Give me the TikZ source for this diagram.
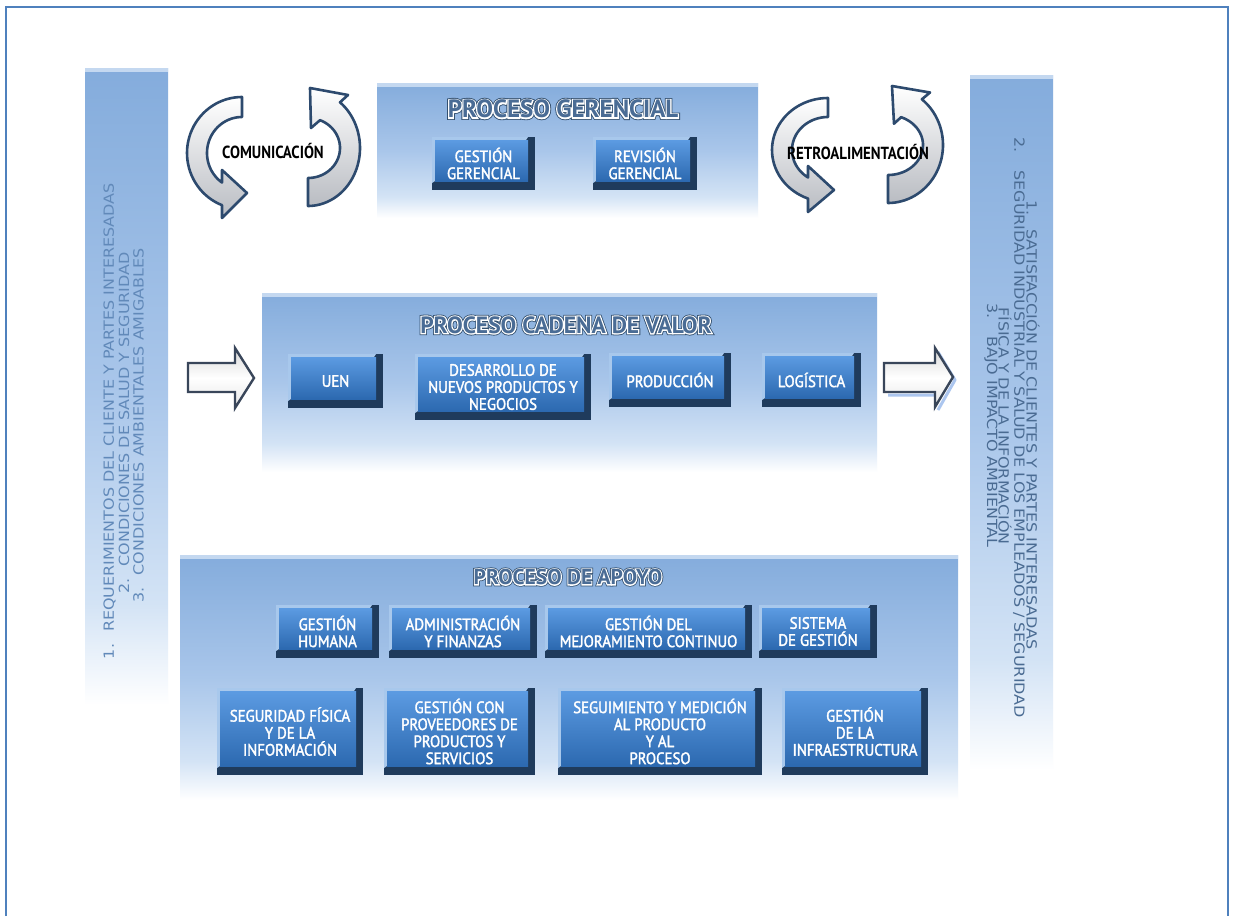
\documentclass[tikz,border=0pt]{standalone}
\usepackage{fontspec}
\setmainfont{DejaVu Sans}
\newfontfamily\titlefont{PT Sans}
\newfontfamily\titlerimdark{PT Sans}[BoldFeatures={FakeBold=17}]
\newfontfamily\titlerimwhite{PT Sans}[BoldFeatures={FakeBold=10}]
\newfontfamily\labelfont{PT Sans}[FakeStretch=0.85]
\newfontfamily\btnfont{PT Sans}[FakeStretch=0.9,FakeBold=2]
\newfontfamily\sidefont{DejaVu Sans}[FakeStretch=1.14]

\definecolor{framec}{HTML}{4F81BD}
\definecolor{pTop}{HTML}{84ACDC}
\definecolor{pMid}{HTML}{A9C6EA}
\definecolor{pLow}{HTML}{D3E3F5}
\definecolor{pLip}{HTML}{C4D8F0}
\definecolor{btnTop}{HTML}{5C9BE2}
\definecolor{btnBot}{HTML}{2C69B0}
\definecolor{btnDark}{HTML}{1F3B5C}
\definecolor{btnLight}{HTML}{A8C8EC}
\definecolor{titleFill}{HTML}{4A6C95}
\definecolor{titleEdge}{HTML}{33506F}
\definecolor{sideTxtL}{HTML}{6189B9}
\definecolor{sideTxtR}{HTML}{4A6B92}
\definecolor{arrowEdge}{HTML}{2D4A6E}
\definecolor{arrowGray}{HTML}{B9BCC2}
\definecolor{blockEdge}{HTML}{39465A}
\definecolor{glow}{HTML}{5B8FE0}

% vertical fade used by panels and side bars (top blue, bottom white)
\pgfdeclareverticalshading{panelfade}{100bp}{color(0bp)=(white); color(25bp)=(white);
  color(33bp)=(pLow); color(50bp)=(pMid); color(75bp)=(pTop); color(100bp)=(pTop)}

% heading text: emboldened dark copy, emboldened white copy, then the blue letters
\newcommand\halotitle[1]{%
  \rlap{\titlerimdark\bfseries\color{titleEdge}#1}%
  \rlap{\titlerimwhite\bfseries\color{white}#1}%
  {\titlefont\bfseries\color{titleFill}#1}}

\begin{document}
\begin{tikzpicture}[x=1pt,y=-1pt,
  panel/.style={shade, shading=panelfade, inner sep=0pt,
    path picture={\fill[pLip] (path picture bounding box.north west) rectangle ([yshift=-4pt]path picture bounding box.north east);}},
  btn/.style={rectangle, inner sep=0pt, fill=btnDark, text=white, align=center,
    font=\btnfont\fontsize{16.5}{17}\selectfont,
    path picture={
      \fill[btnLight] (path picture bounding box.north west)
        -- ([xshift=-7pt]path picture bounding box.north east)
        -- ([xshift=-9pt,yshift=-3pt]path picture bounding box.north east)
        -- ([xshift=3pt,yshift=-3pt]path picture bounding box.north west)
        -- ([xshift=3pt,yshift=9pt]path picture bounding box.south west)
        -- ([yshift=7pt]path picture bounding box.south west) -- cycle;
      \shade[top color=btnTop, bottom color=btnBot]
        ([xshift=3pt,yshift=-3pt]path picture bounding box.north west)
        rectangle ([xshift=-7pt,yshift=9pt]path picture bounding box.south east);}},
  ptitle/.style={inner sep=0pt},
  curl/.style={draw=arrowEdge, line width=2.6pt, line join=round, top color=white, bottom color=arrowGray},
  blockarrow/.style={draw=blockEdge, line width=2.4pt, line join=miter, top color=gray!30, bottom color=gray!20, middle color=white},
  arrowlabel/.style={inner sep=0pt, font=\labelfont\bfseries\fontsize{17.5}{18}\selectfont},
  sidetxtL/.style={font=\sidefont\fontsize{14}{14}\selectfont, text=sideTxtL, inner sep=0pt, rotate=90, anchor=east},
  sidetxtR/.style={font=\sidefont\fontsize{14}{14}\selectfont, text=sideTxtR, inner sep=0pt, rotate=-90, anchor=west}]

\useasboundingbox (0,0) rectangle (1234,916);
\fill[white] (0,0) rectangle (1234,916);

% outer frame (open at the bottom)
\draw[framec, line width=2.2pt] (6,916) -- (6,7) -- (1228,7) -- (1228,916);

% side bars
\node[panel, minimum width=83pt, minimum height=637pt] (barL) at (126.5,386.5) {};
\node[panel, minimum width=83pt, minimum height=695pt] (barR) at (1011.5,422.5) {};

\node[sidetxtL] (l1) at (109.5,183) {1.\hspace{12pt}REQUERIMIENTOS DEL CLIENTE Y PARTES INTERESADAS};
\node[sidetxtL] (l2) at (124,252) {2.\hspace{12pt}CONDICIONES DE SALUD Y SEGURIDAD};
\node[sidetxtL] (l3) at (138.5,248) {3.\hspace{12pt}CONDICIONES AMBIENTALES AMIGABLES};

\node[sidetxtR] (r1) at (1033,200) {1.\hspace{14pt}SATISFACCIÓN DE CLIENTES Y PARTES INTERESADAS};
\node[sidetxtR] (r2) at (1019,137) {2.\hspace{18pt}SEGURIDAD INDUSTRIAL Y SALUD DE LOS EMPLEADOS / SEGURIDAD};
\node[sidetxtR] (r3) at (1005,307) {FÍSICA Y DE LA INFORMACIÓN};
\node[sidetxtR] (r4) at (991,303) {3.\hspace{18pt}BAJO IMPACTO AMBIENTAL};

% process panels
\node[panel, minimum width=381pt, minimum height=135pt] (pg) at (567.5,150.5) {};
\node[panel, minimum width=615pt, minimum height=179pt] (pc) at (569.5,382.5) {};
\node[panel, minimum width=778pt, minimum height=245pt] (pa) at (569,677.5) {};

\node[ptitle, font=\fontsize{25}{28}\selectfont] (tg) at (563,109) {\halotitle{PROCESO GERENCIAL}};
\node[ptitle, font=\fontsize{23.5}{26}\selectfont] (tc) at (566,325) {\halotitle{PROCESO CADENA DE VALOR}};
\node[ptitle, font=\fontsize{21.5}{24}\selectfont] (ta) at (568,577) {\halotitle{PROCESO DE APOYO}};

% management buttons
\node[btn, minimum width=103pt, minimum height=53pt] (gg) at (483.5,163.5) {GESTIÓN\\GERENCIAL};
\node[btn, minimum width=104pt, minimum height=53pt] (rg) at (645,163.5) {REVISIÓN\\GERENCIAL};

% value chain buttons
\node[btn, minimum width=95pt, minimum height=54pt] (uen) at (335.5,381) {UEN};
\node[btn, minimum width=176pt, minimum height=66pt] (dnp) at (503,387) {DESARROLLO DE\\NUEVOS PRODUCTOS Y\\NEGOCIOS};
\node[btn, minimum width=122pt, minimum height=54pt] (prod) at (670,380) {PRODUCCIÓN};
\node[btn, minimum width=99pt, minimum height=54pt] (log) at (811.5,380) {LOGÍSTICA};

% support buttons, first row
\node[btn, minimum width=103pt, minimum height=53pt] (gh) at (327.5,631.5) {GESTIÓN\\HUMANA};
\node[btn, minimum width=148pt, minimum height=53pt] (af) at (463,631.5) {ADMINISTRACIÓN\\Y FINANZAS};
\node[btn, minimum width=207pt, minimum height=53pt] (gmc) at (648.5,631.5) {GESTIÓN DEL\\MEJORAMIENTO CONTINUO};
\node[btn, minimum width=118pt, minimum height=53pt] (sg) at (818,631.5) {SISTEMA\\DE GESTIÓN};

% support buttons, second row
\node[btn, minimum width=146pt, minimum height=87pt] (sf) at (290,731.5) {SEGURIDAD FÍSICA\\Y DE LA\\INFORMACIÓN};
\node[btn, minimum width=151pt, minimum height=87pt] (gp) at (459.5,731.5) {GESTIÓN CON\\PROVEEDORES DE\\PRODUCTOS Y\\SERVICIOS};
\node[btn, minimum width=204pt, minimum height=87pt] (sm) at (660,731.5) {SEGUIMIENTO Y MEDICIÓN\\AL PRODUCTO\\Y AL\\PROCESO};
\node[btn, minimum width=146pt, minimum height=87pt] (gi) at (855,731.5) {GESTIÓN\\DE LA\\INFRAESTRUCTURA};

% curved arrows around COMUNICACIÓN
\path[curl] (242,97) -- plot[domain=270:111.3, samples=40] ({242+55*cos(\x)},{153+56*sin(\x)})
  -- (222,218) -- (247,193) -- (222,170)
  -- plot[domain=124.8:270, samples=40] ({242+35*cos(\x)},{153+36*sin(\x)}) -- cycle;
\path[curl] (308,206) -- plot[domain=90:-52, samples=40] ({308+52*cos(\x)},{148+58*sin(\x)})
  -- (348,95) -- (310,88) -- (311,128)
  -- plot[domain=-68:90, samples=40] ({308+32*cos(\x)},{148+30*sin(\x)}) -- cycle;
\node[arrowlabel] (tcom) at (273,151) {COMUNICACIÓN};

% curved arrows around RETROALIMENTACIÓN
\path[curl] (828,98) -- plot[domain=270:110.9, samples=40] ({828+56*cos(\x)},{150+52*sin(\x)})
  -- (808,212) -- (834,190) -- (808,166)
  -- plot[domain=123.7:270, samples=40] ({828+36*cos(\x)},{150+33*sin(\x)}) -- cycle;
\path[curl] (888,203) -- plot[domain=90:-52, samples=40] ({888+55*cos(\x)},{145+58*sin(\x)})
  -- (930,92.5) -- (892,86) -- (894,123.7)
  -- plot[domain=-68:90, samples=40] ({888+35*cos(\x)},{145+30*sin(\x)}) -- cycle;
\node[arrowlabel] (tret) at (858,152) {RETROALIMENTACIÓN};

% block arrows into and out of the value chain
\path[blockarrow] (188,363) -- (235,363) -- (235,348) -- (254,378) -- (235,408) -- (235,392) -- (188,392) -- cycle;
\draw[glow, line width=3pt, opacity=0.5, line join=round] (938,352) -- (955,380) -- (938,410) (888,395) -- (936,395);
\path[blockarrow] (884,363) -- (935,363) -- (935,348) -- (953,377) -- (935,407) -- (935,392) -- (884,392) -- cycle;

\end{tikzpicture}
\end{document}
